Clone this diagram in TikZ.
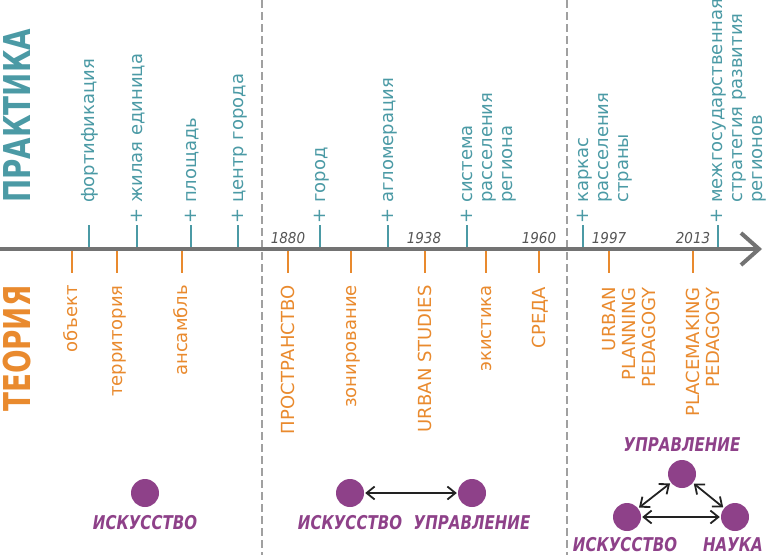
\documentclass[tikz,border=0pt]{standalone}
\usepackage{fontspec}
\setmainfont{DejaVu Sans}
\newfontfamily\condfont{DejaVu Sans Condensed}
\newfontfamily\dotfont[FakeStretch=0.88]{DejaVu Sans Condensed}
\newfontfamily\titlefont[FakeStretch=0.75]{DejaVu Sans}
\usetikzlibrary{arrows.meta}
\definecolor{tealc}{HTML}{4B9AA5}
\definecolor{orangec}{HTML}{E98A2E}
\definecolor{purplec}{HTML}{8E4189}
\definecolor{axisc}{HTML}{737373}
\definecolor{dashc}{HTML}{A0A0A0}
\definecolor{yearc}{HTML}{555555}
\definecolor{arrowc}{HTML}{222222}
\begin{document}
\begin{tikzpicture}[x=1pt,y=-1pt,
  lab/.style={rotate=90, inner sep=0pt, font=\fontsize{18}{20}\selectfont},
  prac/.style={lab, text=tealc, anchor=base west, align=left},
  theo/.style={lab, text=orangec, anchor=base east, align=right},
  tealtick/.style={draw=tealc, line width=2.5pt},
  orangetick/.style={draw=orangec, line width=2.5pt},
  sep/.style={draw=dashc, line width=1.8pt, dash pattern=on 8pt off 4pt},
  axisline/.style={draw=axisc, line width=4pt, -{Straight Barb[length=18pt,width=32pt]}},
  yearlab/.style={font=\condfont\itshape\fontsize{15}{17}\selectfont, text=yearc, inner sep=0pt},
  bigtitle/.style={rotate=90, anchor=base west, inner sep=0pt, font=\titlefont\bfseries\fontsize{37}{40}\selectfont},
  dot/.style={circle, fill=purplec, minimum size=28pt, inner sep=0pt},
  dotlab/.style={text=purplec, inner sep=0pt, font=\dotfont\bfseries\itshape\fontsize{19}{22}\selectfont},
  biarrow/.style={draw=arrowc, line width=1.8pt, {Straight Barb[length=8pt,width=13pt]}-{Straight Barb[length=8pt,width=13pt]}, shorten <=1pt, shorten >=1pt}
]
\useasboundingbox (0,0) rectangle (768,555);

% separators
\coordinate (s1t) at (262,0); \coordinate (s1b) at (262,555);
\coordinate (s2t) at (567,0); \coordinate (s2b) at (567,555);
\draw[sep] (s1t) -- (s1b);
\draw[sep] (s2t) -- (s2b);

% axis
\coordinate (axL) at (0,249);
\coordinate (axR) at (762,249);
\draw[axisline] (axL) -- (axR);

% ticks
\foreach \x in {89,137,191,238,320,388,467,583,718}
  \draw[tealtick] (\x,225) -- (\x,247);
\foreach \x in {72,117,182,288,351,425,486,539,609,693}
  \draw[orangetick] (\x,251) -- (\x,273);

% titles
\node[bigtitle, text=tealc] (prak) at (30,203) {ПРАКТИКА};
\node[bigtitle, text=orangec] (teor) at (30,412) {ТЕОРИЯ};

% practice labels (anchor = baseline of the last line)
\node[prac] (p1) at (94,203) {фортификация};
\node[prac] (p2) at (142,203) {\llap{+ }жилая единица};
\node[prac] (p3) at (196,203) {\llap{+ }площадь};
\node[prac] (p4) at (243,203) {\llap{+ }центр города};
\node[prac] (p5) at (325,203) {\llap{+ }город};
\node[prac] (p6) at (393,203) {\llap{+ }агломерация};
\node[prac] (p7) at (512,203) {\llap{+ }система\\расселения\\региона};
\node[prac] (p8) at (628,203) {\llap{+ }каркас\\расселения\\страны};
\node[prac] (p9) at (762,203) {\llap{+ }межгосударственная\\стратегия развития\\регионов};

% theory labels
\node[theo] (t1) at (77,285) {объект};
\node[theo] (t2) at (122,285) {территория};
\node[theo] (t3) at (187,285) {ансамбль};
\node[theo] (t4) at (294,285) {ПРОСТРАНСТВО};
\node[theo] (t5) at (356,285) {зонирование};
\node[theo] (t6) at (431,285) {URBAN STUDIES};
\node[theo] (t7) at (491,285) {экистика};
\node[theo] (t8) at (545,287) {СРЕДА};
\node[theo] (t9) at (655,287) {URBAN\\PLANNING\\PEDAGOGY};
\node[theo] (t10) at (719,287) {PLACEMAKING\\PEDAGOGY};

% years
\node[yearlab] (y1) at (288,238) {1880};
\node[yearlab] (y2) at (424,238) {1938};
\node[yearlab] (y3) at (539,238) {1960};
\node[yearlab] (y4) at (609,238) {1997};
\node[yearlab] (y5) at (693,238) {2013};

% bottom diagrams
\node[dot] (d1) at (145,493) {};
\node[dotlab] (l1) at (145,523) {ИСКУССТВО};

\node[dot] (d2a) at (350,493) {};
\node[dot] (d2b) at (472,493) {};
\node[dotlab] (l2a) at (350,523) {ИСКУССТВО};
\node[dotlab] (l2b) at (472,523) {УПРАВЛЕНИЕ};
\draw[biarrow] (d2a) -- (d2b);

\node[dot] (d3t) at (682,474) {};
\node[dot] (d3l) at (627,517) {};
\node[dot] (d3r) at (735,517) {};
\node[dotlab] (l3t) at (682,445) {УПРАВЛЕНИЕ};
\node[dotlab] (l3l) at (625,545) {ИСКУССТВО};
\node[dotlab] (l3r) at (733,545) {НАУКА};
\draw[biarrow] (d3l) -- (d3t);
\draw[biarrow] (d3t) -- (d3r);
\draw[biarrow] (d3l) -- (d3r);
\end{tikzpicture}
\end{document}
